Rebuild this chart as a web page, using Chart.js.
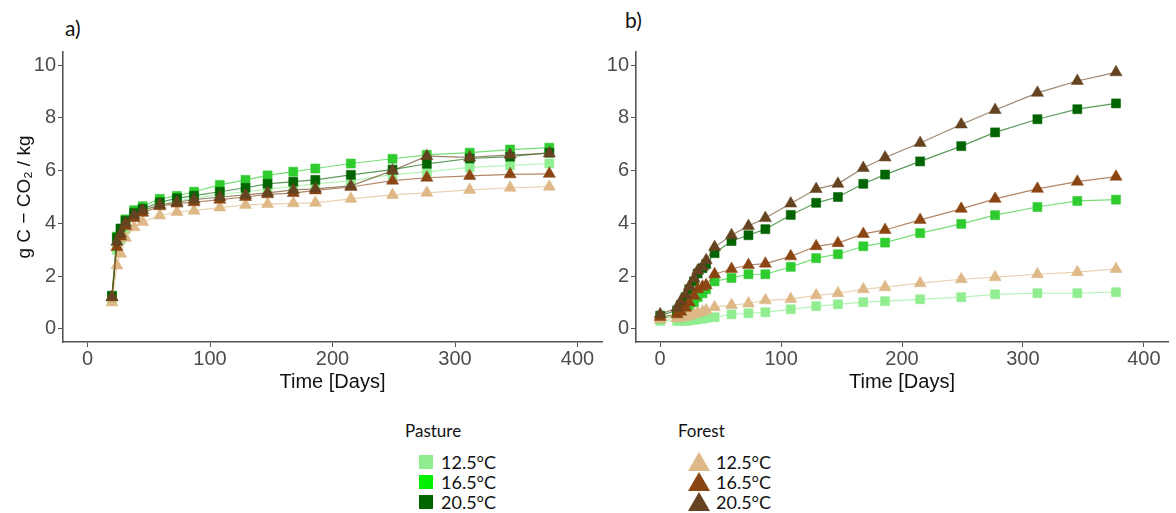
<!DOCTYPE html>
<html>
<head>
<meta charset="utf-8">
<script src="https://cdn.jsdelivr.net/npm/chart.js@4.4.1/dist/chart.umd.min.js"></script>
<style>
  body { margin: 0; background: #fff; width: 1176px; height: 513px; position: relative; overflow: hidden; font-family: Lato, "Open Sans", sans-serif; color: #111; }
  canvas { position: absolute; top: 0; }
  #chartA { left: 0; }
  #chartB { left: 600px; }
  .tag { position: absolute; font-size: 21px; line-height: 22px; }
  .leg-title { position: absolute; font-size: 17px; line-height: 20px; }
  .leg-text { position: absolute; font-size: 18px; line-height: 20px; }
  .sq { position: absolute; width: 14px; height: 14px; }
  .tri { position: absolute; width: 0; height: 0; border-left: 11px solid transparent; border-right: 11px solid transparent; border-bottom-width: 19px; border-bottom-style: solid; }
</style>
</head>
<body>
<div class="tag" style="left:65px; top:17px;">a)</div>
<div class="tag" style="left:625px; top:9px;">b)</div>
<canvas id="chartA" width="610" height="400"></canvas>
<canvas id="chartB" width="576" height="400"></canvas>
<div id="legend"></div>
<script>
// ejes
var xTicks = [0, 100, 200, 300, 400];
var yTicks = [0, 2, 4, 6, 8, 10];
var temps = ['12.5°C', '16.5°C', '20.5°C'];

// panel a) - dias de muestreo
var daysA = [20, 24, 27, 31, 38, 45, 59, 73, 87, 108, 129, 147, 168, 186, 215, 249, 277, 312, 345, 377];
var pastureA125 = [1.1, 3.0, 3.4, 3.8, 4.25, 4.45, 4.7, 4.85, 4.95, 5.1, 5.2, 5.3, 5.4, 5.5, 5.62, 5.85, 5.95, 6.12, 6.2, 6.27];
var pastureA165 = [1.25, 3.5, 3.8, 4.15, 4.5, 4.65, 4.93, 5.04, 5.2, 5.46, 5.65, 5.82, 5.96, 6.08, 6.27, 6.45, 6.6, 6.68, 6.8, 6.87];
var pastureA205 = [1.25, 3.45, 3.8, 4.1, 4.4, 4.55, 4.8, 4.95, 5.05, 5.2, 5.35, 5.5, 5.58, 5.65, 5.84, 6.04, 6.26, 6.46, 6.53, 6.68];
var forestA125 = [1.0, 2.4, 2.85, 3.45, 3.85, 4.05, 4.3, 4.43, 4.48, 4.6, 4.7, 4.73, 4.76, 4.78, 4.93, 5.08, 5.16, 5.27, 5.35, 5.39];
var forestA165 = [1.2, 3.1, 3.5, 3.9, 4.2, 4.4, 4.65, 4.75, 4.8, 4.9, 5.0, 5.1, 5.15, 5.25, 5.38, 5.62, 5.73, 5.8, 5.86, 5.88];
var forestA205 = [1.2, 3.3, 3.6, 4.0, 4.3, 4.5, 4.7, 4.8, 4.9, 5.0, 5.08, 5.16, 5.27, 5.31, 5.42, 6.0, 6.55, 6.5, 6.6, 6.65];

// panel b)
var daysB = [0, 14, 17, 21, 24, 28, 31, 35, 38, 45, 59, 73, 87, 108, 129, 147, 168, 186, 215, 249, 277, 312, 345, 377];
var pastureB125 = [0.3, 0.3, 0.3, 0.3, 0.32, 0.34, 0.36, 0.38, 0.41, 0.44, 0.55, 0.59, 0.63, 0.74, 0.86, 0.93, 1.01, 1.05, 1.12, 1.2, 1.31, 1.35, 1.35, 1.39];
var pastureB165 = [0.4, 0.5, 0.55, 0.7, 0.85, 1.0, 1.2, 1.35, 1.5, 1.8, 1.93, 2.07, 2.07, 2.35, 2.68, 2.83, 3.13, 3.27, 3.63, 3.98, 4.31, 4.62, 4.85, 4.9];
var pastureB205 = [0.5, 0.7, 0.9, 1.2, 1.5, 1.8, 2.1, 2.3, 2.45, 2.87, 3.33, 3.55, 3.78, 4.32, 4.78, 5.0, 5.5, 5.85, 6.35, 6.93, 7.45, 7.95, 8.33, 8.55];
var forestB125 = [0.35, 0.4, 0.42, 0.45, 0.5, 0.55, 0.6, 0.65, 0.7, 0.82, 0.9, 0.96, 1.08, 1.13, 1.27, 1.35, 1.5, 1.58, 1.73, 1.88, 1.96, 2.07, 2.15, 2.27];
var forestB165 = [0.45, 0.55, 0.65, 0.8, 1.0, 1.25, 1.5, 1.6, 1.65, 2.07, 2.27, 2.42, 2.47, 2.75, 3.13, 3.25, 3.6, 3.75, 4.13, 4.55, 4.93, 5.31, 5.58, 5.77];
var forestB205 = [0.55, 0.8, 1.05, 1.3, 1.6, 1.9, 2.2, 2.35, 2.6, 3.1, 3.55, 3.9, 4.2, 4.75, 5.3, 5.5, 6.1, 6.5, 7.05, 7.75, 8.3, 8.95, 9.4, 9.73];

var pastureColors = ['#90EE90', '#2ECC2E', '#006400'];
var pastureLegend = ['#90EE90', '#00EE00', '#006400'];
var forestColors = ['#DEB887', '#8B4513', '#654321'];

function hexA(hex, a) {
    var r = parseInt(hex.substr(1, 2), 16), g = parseInt(hex.substr(3, 2), 16), b = parseInt(hex.substr(5, 2), 16);
    return 'rgba(' + r + ',' + g + ',' + b + ',' + a + ')';
}

function serie(days, vals, color, shape, order) {
    return {
        data: days.map(function (d, i) { return { x: d, y: vals[i] }; }),
        borderColor: hexA(color, 0.65),
        borderWidth: 1.2,
        backgroundColor: color,
        pointBackgroundColor: color,
        pointBorderColor: hexA(color, 0.5),
        pointBorderWidth: 1,
        pointStyle: shape,
        pointRadius: shape === 'rect' ? 6.4 : 7,
        tension: 0,
        order: order
    };
}

var gris = '#555';
var tickFont = { family: '"Liberation Sans", Arial, sans-serif', size: 20 };

function makeChart(id, days, pas, fo, yWidth, showYTitle) {
    var ds = [];
    for (var i = 0; i < 3; i++) ds.push(serie(days, pas[i], pastureColors[i], 'rect', 10 - i));
    for (var j = 0; j < 3; j++) ds.push(serie(days, fo[j], forestColors[j], 'triangle', 3 - j));
    return new Chart(document.getElementById(id).getContext('2d'), {
        type: 'line',
        data: { datasets: ds },
        options: {
            responsive: false,
            animation: false,
            devicePixelRatio: 1,
            layout: { padding: { top: 52, right: 0, left: 0, bottom: 0 } },
            plugins: { legend: { display: false }, tooltip: { enabled: false } },
            scales: {
                x: {
                    type: 'linear', min: -20, max: 420,
                    afterBuildTicks: function (s) { s.ticks = xTicks.map(function (v) { return { value: v }; }); },
                    afterFit: function (s) { s.height = 58; },
                    grid: { drawOnChartArea: false, tickLength: 5, color: gris, lineWidth: 1 },
                    border: { display: true, color: gris, width: 1.6 },
                    ticks: { color: '#4D4D4D', font: tickFont, padding: 0, maxRotation: 0 },
                    title: { display: true, text: 'Time [Days]', color: '#111', font: tickFont, padding: { top: 0, bottom: 6 } }
                },
                y: {
                    type: 'linear', min: -0.5, max: 10.5,
                    afterBuildTicks: function (s) { s.ticks = yTicks.map(function (v) { return { value: v }; }); },
                    afterFit: function (s) { s.width = yWidth; },
                    grid: { drawOnChartArea: false, tickLength: 5, color: gris, lineWidth: 1 },
                    border: { display: true, color: gris, width: 1.6 },
                    ticks: { color: '#4D4D4D', font: tickFont, padding: 2 },
                    title: { display: showYTitle, text: 'g C − CO₂ / kg', color: '#111', font: { family: '"Liberation Sans", Arial, sans-serif', size: 19 }, padding: { top: 13, bottom: 0 } }
                }
            }
        }
    });
}

makeChart('chartA', daysA, [pastureA125, pastureA165, pastureA205], [forestA125, forestA165, forestA205], 63, true);
makeChart('chartB', daysB, [pastureB125, pastureB165, pastureB205], [forestB125, forestB165, forestB205], 36, false);

// leyenda comun
var leg = document.getElementById('legend');
var html = '<div class="leg-title" style="left:405px; top:421px;">Pasture</div>';
html += '<div class="leg-title" style="left:678px; top:421px;">Forest</div>';
var rowsY = [462, 482, 502];
for (var k = 0; k < 3; k++) {
    html += '<div class="sq" style="left:419px; top:' + (rowsY[k] - 7) + 'px; background:' + pastureLegend[k] + ';"></div>';
    html += '<div class="leg-text" style="left:441px; top:' + (rowsY[k] - 10) + 'px;">' + temps[k] + '</div>';
    html += '<div class="tri" style="left:688px; top:' + (rowsY[k] - 10) + 'px; border-bottom-color:' + forestColors[k] + ';"></div>';
    html += '<div class="leg-text" style="left:716px; top:' + (rowsY[k] - 10) + 'px;">' + temps[k] + '</div>';
}
leg.innerHTML = html;
</script>
</body>
</html>
